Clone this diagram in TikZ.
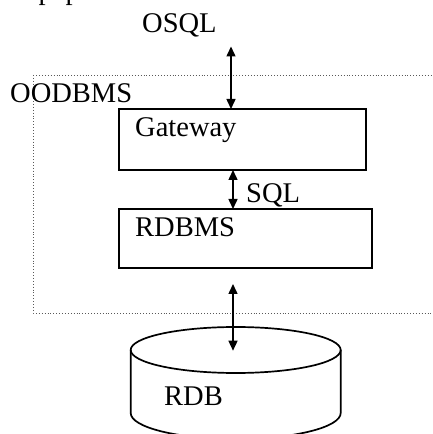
\documentclass[tikz,border=0pt]{standalone}
\usepackage{fontspec}
\setmainfont{Liberation Serif}
\usetikzlibrary{arrows.meta}
\begin{document}
\begin{tikzpicture}[x=1pt,y=1pt,
  txt/.style={anchor=base west, inner sep=0pt, font=\fontsize{28.5}{30}\selectfont},
  boxnode/.style={draw, line width=1.7pt, rectangle, inner sep=0pt, outer sep=0pt, anchor=north west},
  conn/.style={line width=1.5pt, {Triangle[length=10pt,width=9pt]}-{Triangle[length=10pt,width=9pt]}},
  oodbframe/.style={draw=black!65, line width=0.9pt, dotted},
  dbline/.style={line width=1.7pt}]
\useasboundingbox (0,0) rectangle (432,434);
\clip (0,0) rectangle (432,434);
% fragments of cut-off text at the top edge
\node[txt] (p1) at (38.5,434) {p};
\node[txt] (p2) at (65.5,434) {p};
% OODBMS frame (open to the right)
\draw[oodbframe] (33.3,359) -- (445,359);
\draw[oodbframe] (33.3,359) -- (33.3,121) -- (445,121);
\node[txt] (oodbms) at (10,331.7) {OODBMS};
% boxes
\node[boxnode, minimum width=247pt, minimum height=61pt] (gw) at (119,325) {};
\node[boxnode, minimum width=253pt, minimum height=59pt] (rdbms) at (119,225) {};
\node[txt] (gwtxt) at (135,297.3) {Gateway};
\node[txt] (rdbmstxt) at (135,197.3) {RDBMS};
% OSQL
\node[txt] (osql) at (142,401) {OSQL};
\coordinate (osqlend) at (231,387.5);
\draw[conn] (osqlend) -- (osqlend |- gw.north);
% SQL
\coordinate (sqlx) at (233,0);
\draw[conn] (sqlx |- gw.south) -- (sqlx |- rdbms.north);
\node[txt] (sql) at (246,231.3) {SQL};
% database cylinder
\draw[dbline] (235.7,84) ellipse [x radius=105, y radius=23];
\draw[dbline] (130.7,84) -- (130.7,21) arc[start angle=180, end angle=360, x radius=105, y radius=26] -- (340.7,84);
\node[txt] (rdb) at (164,28) {RDB};
\coordinate (dbtop) at (233,150);
\coordinate (dbin) at (233,83.3);
\draw[conn] (dbtop) -- (dbin);
\end{tikzpicture}
\end{document}
